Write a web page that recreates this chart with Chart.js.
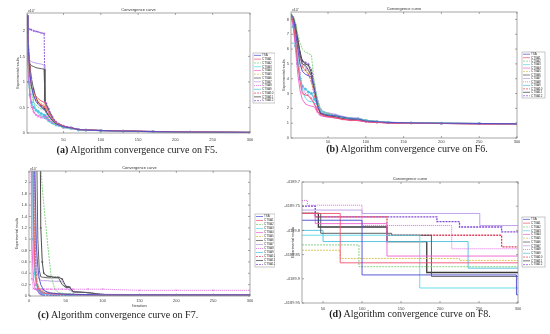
<!DOCTYPE html>
<html><head><meta charset="utf-8">
<script src="https://cdn.jsdelivr.net/npm/chart.js@4.4.1/dist/chart.umd.min.js"></script>
<style>
html,body{margin:0;padding:0;background:#fff;width:550px;height:334px;overflow:hidden;position:relative}
canvas{position:absolute}
.cap{position:absolute;font-family:"Liberation Serif","Times New Roman",serif;font-size:10px;line-height:12px;color:#222;white-space:nowrap;transform:translateX(-50%)}
</style></head><body>
<canvas id="ca" width="275" height="147" style="left:0;top:0"></canvas>
<canvas id="cb" width="275" height="147" style="left:275px;top:0"></canvas>
<canvas id="cc" width="275" height="147" style="left:0;top:165px"></canvas>
<canvas id="cd" width="275" height="147" style="left:275px;top:165px"></canvas>
<div class="cap" style="left:137px;top:144px"><b>(a)</b> Algorithm convergence curve on F5.</div>
<div class="cap" style="left:407px;top:143px"><b>(b)</b> Algorithm convergence curve on F6.</div>
<div class="cap" style="left:118px;top:309px"><b>(c)</b> Algorithm convergence curve on F7.</div>
<div class="cap" style="left:410px;top:308px"><b>(d)</b> Algorithm convergence curve on F8.</div>
<script>
// ---------- data ----------
const names = ['TSA','CTSA1','CTSA2','CTSA3','CTSA4','CTSA5','CTSA6','CTSA7','CTSA8','CTSA9','CTSA10','CTSA11','CTSA12'];

// F5 (values x10^4)
const iterA = [1,2,3,5,7,10,13,16,20,24,25,27,30,35,40,50,60,70,80,100,130,170,220,300];
const f5 = [
 [2.3,1.95,1.6,1.15,0.9,0.72,0.62,0.56,0.5,0.46,0.45,0.4,0.33,0.25,0.18,0.12,0.1,0.065,0.058,0.048,0.037,0.027,0.017,0.012],
 [2.3,1.8,1.5,1.1,0.9,0.8,0.72,0.67,0.63,0.6,0.58,0.5,0.4,0.28,0.2,0.13,0.1,0.07,0.06,0.05,0.04,0.03,0.02,0.012],
 [2.3,1.7,1.3,0.95,0.75,0.6,0.55,0.5,0.47,0.45,0.44,0.38,0.3,0.22,0.16,0.11,0.09,0.06,0.055,0.045,0.035,0.025,0.015,0.01],
 [2.3,1.9,1.5,1.12,1.0,0.6,0.45,0.38,0.33,0.3,0.29,0.26,0.22,0.18,0.15,0.11,0.09,0.06,0.055,0.045,0.035,0.025,0.015,0.01],
 [2.3,1.6,1.2,0.8,0.55,0.42,0.36,0.34,0.33,0.32,0.32,0.33,0.27,0.2,0.15,0.11,0.09,0.06,0.055,0.045,0.035,0.025,0.015,0.01],
 [2.3,1.85,1.55,1.2,0.95,0.78,0.68,0.62,0.58,0.55,0.54,0.45,0.36,0.27,0.19,0.12,0.1,0.065,0.058,0.047,0.036,0.026,0.016,0.011],
 [2.3,1.6,1.4,1.35,1.32,1.3,1.28,1.27,1.26,1.25,0.62,0.55,0.45,0.3,0.2,0.13,0.1,0.07,0.06,0.05,0.04,0.03,0.02,0.012],
 [2.3,1.75,1.45,1.42,1.4,1.38,1.37,1.36,1.35,1.33,0.6,0.52,0.42,0.28,0.2,0.13,0.1,0.07,0.06,0.05,0.04,0.03,0.02,0.012],
 [2.3,1.5,1.1,0.7,0.5,0.4,0.35,0.32,0.3,0.29,0.29,0.28,0.24,0.2,0.16,0.11,0.09,0.06,0.055,0.045,0.035,0.025,0.015,0.01],
 [2.3,1.4,1.0,0.75,0.6,0.5,0.45,0.42,0.38,0.35,0.34,0.3,0.25,0.2,0.16,0.11,0.09,0.06,0.055,0.045,0.035,0.025,0.015,0.01],
 [2.3,2.0,1.7,1.3,1.0,0.75,0.65,0.6,0.55,0.52,0.51,0.45,0.36,0.26,0.18,0.12,0.1,0.065,0.058,0.048,0.037,0.027,0.017,0.012],
 [2.3,1.9,1.65,1.3,1.05,0.85,0.7,0.6,0.53,0.48,0.47,0.42,0.34,0.25,0.18,0.12,0.1,0.065,0.058,0.048,0.037,0.027,0.017,0.012],
 [2.3,2.1,2.05,2.03,2.02,2.0,1.99,1.98,1.96,1.95,0.65,0.58,0.48,0.32,0.22,0.14,0.11,0.075,0.062,0.05,0.04,0.03,0.02,0.012]
];
const f5YTicks = [0,0.5,1,1.5,2];

// F6 (values x10^4)
const iterB = [1,4,7,10,13,16,20,24,28,32,36,40,45,50,60,70,80,90,100,115,130,160,200,250,300];
const f6 = [
 [8.3,8.1,7.2,6.0,5.0,4.5,4.3,4.2,4.1,3.2,2.2,1.7,1.6,1.55,1.5,1.4,1.3,1.28,1.15,1.1,1.05,1.02,1.0,0.98,0.96],
 [8.3,7.8,6.5,5.0,3.8,3.0,2.9,2.85,2.6,2.3,1.8,1.6,1.5,1.45,1.35,1.25,1.2,1.18,1.1,1.05,1.02,1.0,0.98,0.96,0.95],
 [8.3,8.2,7.8,7.0,6.4,6.0,5.8,5.7,5.6,3.6,2.6,2.0,1.75,1.65,1.5,1.4,1.32,1.3,1.2,1.12,1.06,1.02,1.0,0.98,0.96],
 [6.4,6.4,6.3,5.5,4.2,3.2,2.7,2.5,2.45,2.4,2.2,1.8,1.7,1.6,1.5,1.4,1.35,1.3,1.2,1.12,1.06,1.02,1.0,0.98,0.96],
 [8.3,7.5,6.0,4.3,3.2,2.6,2.3,2.2,2.15,2.1,1.7,1.5,1.45,1.4,1.35,1.25,1.2,1.18,1.1,1.05,1.02,1.0,0.98,0.96,0.95],
 [8.3,8.0,7.0,5.8,5.0,4.6,4.5,4.4,4.0,3.0,2.3,1.8,1.65,1.6,1.5,1.4,1.32,1.3,1.18,1.1,1.05,1.02,1.0,0.98,0.96],
 [8.3,8.2,7.6,6.6,5.6,5.0,4.9,4.6,4.2,3.3,2.3,1.7,1.55,1.5,1.45,1.3,1.25,1.22,1.12,1.07,1.03,1.0,0.98,0.96,0.95],
 [8.3,8.0,7.0,6.2,5.4,5.0,4.8,4.5,4.2,3.5,2.6,1.9,1.75,1.7,1.6,1.45,1.35,1.35,1.2,1.12,1.06,1.02,1.0,0.98,0.96],
 [8.3,7.9,6.8,5.6,4.4,3.4,3.0,2.9,2.7,2.3,1.8,1.55,1.5,1.45,1.4,1.28,1.22,1.2,1.12,1.06,1.02,1.0,0.98,0.96,0.95],
 [8.3,7.5,6.2,5.0,4.0,3.5,3.3,3.1,3.0,2.6,2.3,1.9,1.7,1.6,1.5,1.38,1.3,1.28,1.18,1.1,1.05,1.02,1.0,0.98,0.96],
 [8.3,8.0,7.4,6.5,5.5,4.8,4.6,4.3,3.8,2.8,2.0,1.6,1.5,1.45,1.38,1.27,1.2,1.18,1.1,1.05,1.02,1.0,0.98,0.96,0.95],
 [8.3,8.1,7.6,6.7,5.8,5.2,5.0,4.9,4.4,3.4,2.2,1.65,1.5,1.48,1.4,1.28,1.22,1.2,1.12,1.06,1.02,1.0,0.98,0.96,0.95],
 [8.3,7.9,7.2,6.3,5.6,5.2,5.1,5.0,4.6,3.6,2.5,1.85,1.7,1.65,1.55,1.42,1.35,1.32,1.2,1.12,1.06,1.02,1.0,0.98,0.96]
];
const f6YTicks = [0,1,2,3,4,5,6,7,8];

// F7 (values x10^4)
const iterC = [0,2,4,6,8,10,12,14,16,18,20,25,30,35,40,45,50,55,60,80,100,150,200,250,300];
const f7 = [
 [20,20,20,6,2.2,0.9,0.5,0.3,0.2,0.15,0.1,0.07,0.05,0.045,0.04,0.035,0.03,0.03,0.03,0.025,0.02,0.02,0.02,0.02,0.02],
 [20,15,5,1.5,0.5,0.25,0.15,0.1,0.08,0.06,0.05,0.045,0.04,0.035,0.03,0.03,0.03,0.025,0.025,0.02,0.02,0.02,0.02,0.02,0.02],
 [20,20,20,20,20,20,20,20,2.3,1.9,1.62,0.95,0.35,0.12,0.06,0.05,0.04,0.035,0.03,0.025,0.02,0.02,0.02,0.02,0.02],
 [20,10,3,0.8,0.35,0.2,0.15,0.1,0.08,0.06,0.05,0.045,0.04,0.035,0.03,0.03,0.03,0.025,0.025,0.02,0.02,0.02,0.02,0.02,0.02],
 [20,6,0.9,0.3,0.15,0.1,0.08,0.06,0.05,0.05,0.045,0.04,0.035,0.03,0.03,0.03,0.025,0.025,0.025,0.02,0.02,0.02,0.02,0.02,0.02],
 [20,20,8,2,0.6,0.3,0.2,0.15,0.12,0.1,0.09,0.07,0.06,0.05,0.045,0.04,0.035,0.03,0.03,0.025,0.02,0.02,0.02,0.02,0.02],
 [20,20,20,20,12,3,1.0,0.45,0.34,0.33,0.33,0.32,0.32,0.32,0.32,0.2,0.15,0.15,0.07,0.06,0.025,0.02,0.02,0.02,0.02],
 [20,20,20,8,1.5,0.5,0.35,0.3,0.28,0.27,0.27,0.27,0.26,0.26,0.26,0.26,0.15,0.1,0.07,0.06,0.03,0.025,0.02,0.02,0.02],
 [20,3,0.3,0.13,0.12,0.12,0.12,0.12,0.12,0.12,0.12,0.12,0.12,0.12,0.12,0.12,0.12,0.12,0.12,0.12,0.12,0.1,0.1,0.1,0.1],
 [20,20,4,1.0,0.4,0.2,0.12,0.08,0.06,0.05,0.04,0.035,0.03,0.03,0.03,0.025,0.025,0.025,0.02,0.02,0.02,0.015,0.015,0.015,0.015],
 [20,20,10,2.5,0.8,0.3,0.18,0.12,0.09,0.07,0.06,0.05,0.045,0.04,0.035,0.03,0.03,0.03,0.025,0.025,0.02,0.02,0.02,0.02,0.02],
 [20,20,20,20,20,20,20,5,1.2,0.6,0.4,0.35,0.34,0.33,0.33,0.3,0.17,0.16,0.08,0.06,0.025,0.02,0.02,0.02,0.02],
 [20,20,15,5,1.2,0.3,0.1,0.05,0.03,0.02,0.015,0.012,0.01,0.01,0.01,0.01,0.01,0.01,0.01,0.01,0.01,0.01,0.01,0.01,0.01]
];
const f7YTicks = [0,0.2,0.4,0.6,0.8,1,1.2,1.4,1.6,1.8,2];

// F8 step curves: [iteration, best value] at each improvement
const f8 = [
 [[23,-4189.779],[100,-4189.892],[298,-4189.933],[300,-4189.933]],
 [[23,-4189.765],[72,-4189.867],[300,-4189.867]],
 [[23,-4189.830],[96,-4189.875],[300,-4189.875]],
 [[23,-4189.810],[174,-4189.919],[300,-4189.919]],
 [[23,-4189.765],[40,-4189.786],[132,-4189.853],[300,-4189.853]],
 [[23,-4189.841],[72,-4189.858],[225,-4189.862],[300,-4189.862]],
 [[23,-4189.765],[47,-4189.806],[138,-4189.810],[189,-4189.895],[300,-4189.895]],
 [[23,-4189.758],[100,-4189.765],[251,-4189.790],[300,-4189.790]],
 [[23,-4189.738],[30,-4189.748],[100,-4189.790],[215,-4189.838],[300,-4189.838]],
 [[23,-4189.800],[50,-4189.823],[236,-4189.878],[300,-4189.878]],
 [[23,-4189.765],[40,-4189.772],[132,-4189.810],[279,-4189.834],[300,-4189.834]],
 [[23,-4189.765],[44,-4189.793],[132,-4189.823],[183,-4189.887],[300,-4189.887]],
 [[23,-4189.750],[40,-4189.772],[196,-4189.782],[225,-4189.793],[279,-4189.803],[300,-4189.803]]
];
const f8YTicks = [-4189.95,-4189.9,-4189.85,-4189.8,-4189.75,-4189.7];
const xTicks = [50,100,150,200,250,300];
const xTicksC = [0,50,100,150,200,250,300];

// ---------- styles ----------
const colors = ['#4848d0','#f0506e','#78d078','#58d8e8','#f060d0','#d8c050','#505050','#b898e8','#e058e0','#48c0e0','#e04060','#383838','#8048d8'];
const dashes = [[],[],[2,1],[],[],[2,1],[],[],[1,1],[],[2,1],[],[2,1]];
const marks  = [false,false,false,false,false,false,false,false,'crossRot','circle','cross','crossRot','cross'];

function sets(xs, rows){
  return rows.map((ys,i)=>({
    label:names[i],
    data: ys.map((y,j)=>({x:xs[j], y:y})),
    borderColor:colors[i], backgroundColor:colors[i],
    borderWidth:0.9, borderDash:dashes[i],
    pointStyle: marks[i]||'circle', pointRadius: marks[i]?1.2:0, pointBorderWidth:0.5,
    fill:false, tension:0
  }));
}
function stepSets(rows){
  return rows.map((pts,i)=>({
    label:names[i],
    data: pts.map(p=>({x:p[0], y:p[1]})),
    borderColor:colors[i], backgroundColor:colors[i],
    borderWidth: (i===12||i===11||i===10)?1.3:0.9, borderDash:dashes[i],
    pointRadius:0, stepped:'before', fill:false
  }));
}

const deco = {
  id:'deco',
  afterDraw(chart, args, o){
    const ctx = chart.ctx, a = chart.chartArea;
    ctx.save();
    ctx.strokeStyle='#808080'; ctx.lineWidth=0.7;
    ctx.strokeRect(a.left, a.top, a.right-a.left, a.bottom-a.top);
    const xs = chart.scales.x, ys = chart.scales.y;
    ctx.beginPath();
    xs.ticks.forEach(t=>{const p=xs.getPixelForValue(t.value); ctx.moveTo(p,a.bottom); ctx.lineTo(p,a.bottom-2); ctx.moveTo(p,a.top); ctx.lineTo(p,a.top+2);});
    ys.ticks.forEach(t=>{const p=ys.getPixelForValue(t.value); ctx.moveTo(a.left,p); ctx.lineTo(a.left+2,p); ctx.moveTo(a.right,p); ctx.lineTo(a.right-2,p);});
    ctx.stroke();
    ctx.fillStyle='#333'; ctx.font='4px "Liberation Sans"'; ctx.textAlign='center'; ctx.textBaseline='bottom';
    ctx.fillText('Convergence curve',(a.left+a.right)/2,a.top-1);
    if(o.exp){
      ctx.textAlign='left'; ctx.font='3.5px "Liberation Sans"';
      ctx.fillText('x10',a.left+1,a.top-0.5);
      ctx.font='2.5px "Liberation Sans"';
      ctx.fillText('4',a.left+6.5,a.top-2);
    }
    ctx.save();
    ctx.translate(o.ytx,(a.top+a.bottom)/2); ctx.rotate(-Math.PI/2);
    ctx.font='3.5px "Liberation Sans"'; ctx.textAlign='center'; ctx.textBaseline='middle';
    ctx.fillText('Experimental results',0,0);
    ctx.restore();
    if(o.xtitle){
      ctx.font='4px "Liberation Sans"'; ctx.textAlign='center'; ctx.textBaseline='middle';
      ctx.fillText(o.xtitle,(a.left+a.right)/2,o.xty);
    }
    const [lx,ly,lw,lh] = o.legend;
    ctx.fillStyle='#fff'; ctx.fillRect(lx,ly,lw,lh);
    ctx.strokeStyle='#909090'; ctx.lineWidth=0.5; ctx.strokeRect(lx,ly,lw,lh);
    const n = chart.data.datasets.length, rh = (lh-1)/n;
    chart.data.datasets.forEach((d,i)=>{
      const y = ly+0.5+rh*(i+0.5);
      ctx.strokeStyle=d.borderColor; ctx.lineWidth=0.7; ctx.setLineDash(d.borderDash||[]);
      ctx.beginPath(); ctx.moveTo(lx+1,y); ctx.lineTo(lx+8,y); ctx.stroke();
      ctx.setLineDash([]);
      ctx.fillStyle='#333'; ctx.font='3px "Liberation Sans"'; ctx.textAlign='left'; ctx.textBaseline='middle';
      ctx.fillText(d.label,lx+9,y);
    });
    ctx.restore();
  }
};

function fmt(v){ return String(Math.round(v*1000)/1000); }

function mk(id, datasets, g){
  new Chart(document.getElementById(id), {
    type:'line',
    data:{datasets},
    options:{
      responsive:false, animation:false, devicePixelRatio:1,
      layout:{padding:{left:0,right:g.pr,top:g.pt,bottom:0}},
      plugins:{legend:{display:false}, tooltip:{enabled:false}, deco:g},
      scales:{
        x:{type:'linear',min:g.xmin,max:g.xmax,
           afterBuildTicks:s=>{s.ticks=g.xt.map(v=>({value:v}));},
           afterFit:s=>{s.height=g.xh;},
           grid:{display:false,drawTicks:false}, border:{display:false},
           ticks:{font:{size:4,family:'Liberation Sans'},color:'#444',padding:g.xpad,maxRotation:0,autoSkip:false,callback:v=>fmt(v)}},
        y:{type:'linear',min:g.ymin,max:g.ymax,
           afterBuildTicks:s=>{s.ticks=g.yt.map(v=>({value:v}));},
           afterFit:s=>{s.width=g.yw;},
           grid:{display:false,drawTicks:false}, border:{display:false},
           ticks:{font:{size:4,family:'Liberation Sans'},color:'#444',padding:2,autoSkip:false,callback:v=>fmt(v)}}
      }
    },
    plugins:[deco]
  });
}

mk('ca', sets(iterA,f5), {pr:25,pt:13,xh:14,yw:27,xpad:4,xmin:1,xmax:300,ymin:0,ymax:2.35,xt:xTicks,yt:f5YTicks,exp:true,ytx:18,legend:[253,53,22,50]});
mk('cb', sets(iterB,f6), {pr:33,pt:12,xh:9,yw:16,xpad:1,xmin:1,xmax:300,ymin:0,ymax:8.5,xt:xTicks,yt:f6YTicks,exp:true,ytx:9,legend:[247,52,23,46]});
mk('cc', sets(iterC,f7), {pr:25,pt:6,xh:16,yw:29,xpad:2,xmin:0,xmax:300,ymin:0,ymax:2.2,xt:xTicksC,yt:f7YTicks,exp:true,ytx:17,legend:[255,49,20,53],xtitle:'Iteration',xty:141});
mk('cd', stepSets(f8), {pr:32,pt:17,xh:9,yw:27,xpad:3,xmin:23,xmax:300,ymin:-4189.95,ymax:-4189.7,xt:xTicks,yt:f8YTicks,exp:false,ytx:18,legend:[247,52,23,50]});
</script>
</body></html>
